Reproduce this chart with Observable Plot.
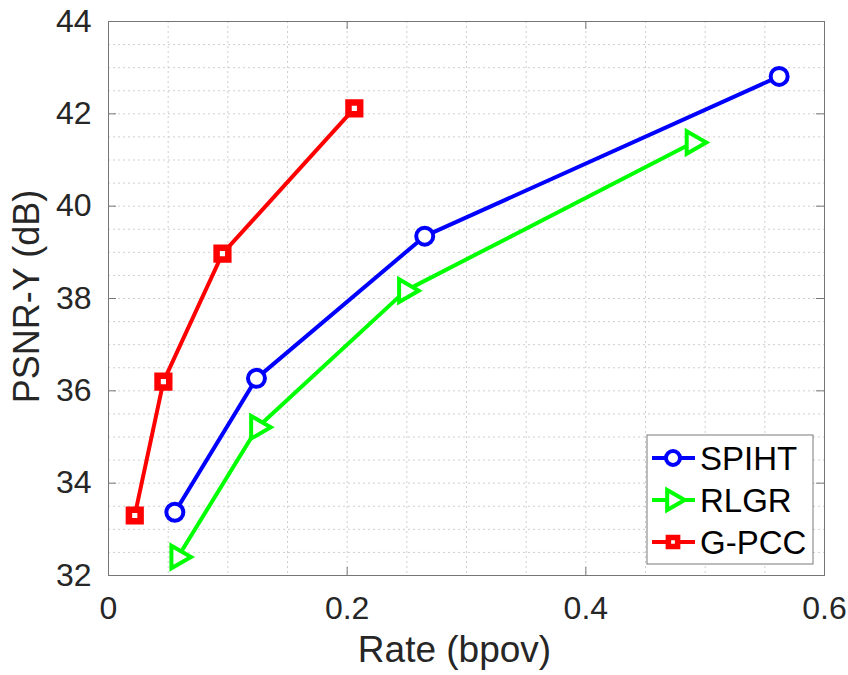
<!DOCTYPE html>
<html>
<head>
<meta charset="utf-8">
<script src="https://cdn.jsdelivr.net/npm/d3@7"></script>
<script src="https://cdn.jsdelivr.net/npm/@observablehq/plot@0.6"></script>
<style>
  html, body { margin: 0; padding: 0; background: #fff; }
  #chart { position: relative; width: 848px; height: 675px; }
</style>
</head>
<body>
<div id="chart"></div>
<script>
// ---- data ----
const seriesNames = ["SPIHT", "RLGR", "G-PCC"];
const seriesColors = ["#0000ff", "#00ff00", "#ff0000"];

const spihtRate = [0.0556, 0.124, 0.265, 0.562];
const spihtPsnr = [33.37, 36.27, 39.35, 42.81];

const rlgrRate = [0.0582, 0.125, 0.249, 0.490];
const rlgrPsnr = [32.40, 35.21, 38.17, 41.38];

const gpccRate = [0.022, 0.046, 0.0955, 0.206];
const gpccPsnr = [33.30, 36.20, 38.97, 42.12];

const xTicks = [0, 0.2, 0.4, 0.6];
const yTicks = [32, 34, 36, 38, 40, 42, 44];
const xGrid = [0.05, 0.1, 0.15, 0.2, 0.25, 0.3, 0.35, 0.4, 0.45, 0.5, 0.55];
const yGrid = [32.5, 33, 33.5, 34, 34.5, 35, 35.5, 36, 36.5, 37, 37.5, 38, 38.5, 39, 39.5, 40, 40.5, 41, 41.5, 42, 42.5, 43, 43.5];

const xLabel = "Rate (bpov)";
const yLabel = "PSNR-Y (dB)";

// ---- build table ----
const rows = [];
[[spihtRate, spihtPsnr], [rlgrRate, rlgrPsnr], [gpccRate, gpccPsnr]].forEach(([r, p], i) => {
  r.forEach((v, j) => rows.push({series: seriesNames[i], rate: v, psnr: p[j]}));
});

// ---- layout ----
const width = 848, height = 675;
const mL = 108, mT = 21, mR = 24, mB = 100;
const W = width - mL - mR, H = height - mT - mB;
const frameColor = "#767676";
const gridColor = "#cfcfcf";
const textColor = "#262626";
const font = "'Liberation Sans', Arial, Helvetica, sans-serif";
const tickLen = 8;

const colorOf = s => seriesColors[seriesNames.indexOf(s)];

const svg = Plot.plot({
  width, height,
  marginLeft: mL, marginTop: mT, marginRight: mR, marginBottom: mB,
  style: {fontFamily: font, background: "#fff", color: textColor},
  x: {domain: [0, 0.6]},
  y: {domain: [32, 44]},
  color: {domain: seriesNames, range: seriesColors},
  marks: [
    Plot.gridX(xGrid, {stroke: gridColor, strokeOpacity: 1, strokeDasharray: "2,3"}),
    Plot.gridY(yGrid, {stroke: gridColor, strokeOpacity: 1, strokeDasharray: "2,3"}),
    Plot.frame({stroke: frameColor, strokeWidth: 1}),
    // inward ticks on all four sides
    Plot.ruleX(xTicks, {stroke: frameColor, insetTop: H - tickLen}),
    Plot.ruleX(xTicks, {stroke: frameColor, insetBottom: H - tickLen}),
    Plot.ruleY(yTicks, {stroke: frameColor, insetRight: W - tickLen}),
    Plot.ruleY(yTicks, {stroke: frameColor, insetLeft: W - tickLen}),
    // lines
    Plot.line(rows, {x: "rate", y: "psnr", z: "series", stroke: "series", strokeWidth: 4, strokeLinejoin: "round"}),
    // markers
    Plot.dot(rows.filter(d => d.series === "SPIHT"), {x: "rate", y: "psnr", symbol: "circle", r: 8.5, stroke: colorOf("SPIHT"), fill: "#fff", strokeWidth: 4}),
    Plot.dot(rows.filter(d => d.series === "RLGR"), {x: "rate", y: "psnr", symbol: "triangle", r: 8.4, rotate: 90, stroke: colorOf("RLGR"), fill: "#fff", strokeWidth: 4, strokeLinejoin: "miter"}),
    Plot.dot(rows.filter(d => d.series === "G-PCC"), {x: "rate", y: "psnr", symbol: "square", r: 6.6, stroke: colorOf("G-PCC"), fill: "#fff", strokeWidth: 6.5, strokeLinejoin: "miter"}),
    // axes
    Plot.axisX({ticks: xTicks, tickSize: 0, tickPadding: 21, fontSize: 32, label: null, tickFormat: d => String(d), fill: textColor}),
    Plot.axisY({ticks: yTicks, tickSize: 0, tickPadding: 17, fontSize: 32, label: null, tickFormat: d => String(d), fill: textColor}),
    // axis titles
    Plot.text([xLabel], {text: d => d, frameAnchor: "bottom", dy: 75, dx: -12, fontSize: 37, fill: textColor, textAnchor: "middle", lineAnchor: "middle"}),
    Plot.text([yLabel], {text: d => d, frameAnchor: "left", dx: -81, dy: -2, rotate: -90, fontSize: 36, fill: textColor, textAnchor: "middle", lineAnchor: "middle"})
  ]
});

// ---- legend (drawn in the same svg) ----
const root = d3.select(svg);
const leg = root.append("g").attr("font-family", font).attr("text-anchor", "start");
const lx = 647, ly = 435, lw = 166, lh = 129;
leg.append("rect").attr("x", lx).attr("y", ly).attr("width", lw).attr("height", lh)
  .attr("fill", "#fff").attr("stroke", "#7a7a7a").attr("stroke-width", 1);
const rowY = [458, 500, 542];
const symbols = [d3.symbolCircle, d3.symbolTriangle, d3.symbolSquare];
const symSize = [Math.PI * 7 * 7, Math.PI * 7.5 * 7.5, Math.PI * 5.2 * 5.2];
const symStroke = [4, 4, 5.5];
seriesNames.forEach((name, i) => {
  const y = rowY[i];
  leg.append("line").attr("x1", 652).attr("x2", 695).attr("y1", y).attr("y2", y)
    .attr("stroke", seriesColors[i]).attr("stroke-width", 4);
  leg.append("path").attr("d", d3.symbol(symbols[i], symSize[i])())
    .attr("transform", `translate(673,${y})` + (i === 1 ? " rotate(90)" : ""))
    .attr("fill", "#fff").attr("stroke", seriesColors[i]).attr("stroke-width", symStroke[i])
    .attr("stroke-linejoin", "miter");
  leg.append("text").attr("x", 700).attr("y", y).attr("dy", "0.36em")
    .attr("font-size", 33).attr("fill", "#000").text(name);
});

document.getElementById("chart").appendChild(svg);
</script>
</body>
</html>
